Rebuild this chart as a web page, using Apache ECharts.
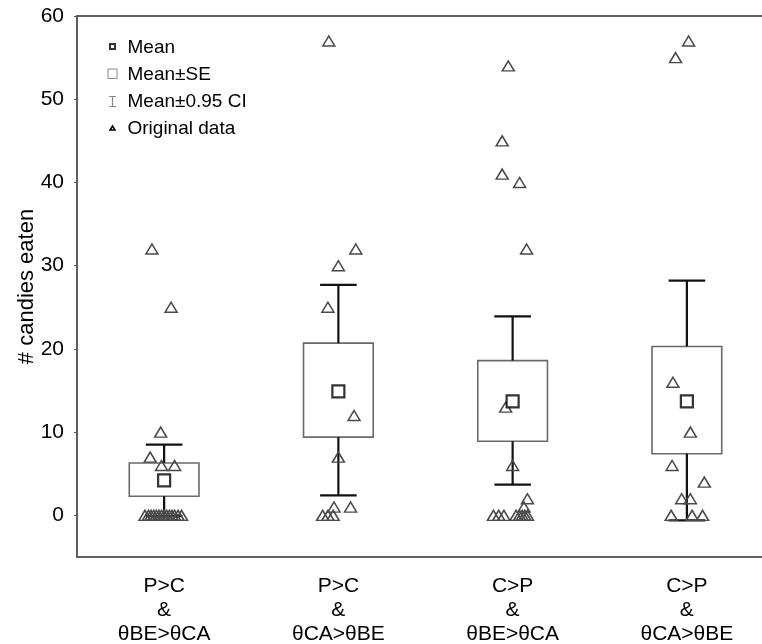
<!DOCTYPE html>
<html><head><meta charset="utf-8">
<script src="https://cdn.jsdelivr.net/npm/echarts@6/dist/echarts.min.js"></script>
<style>html,body{margin:0;padding:0;background:#fff}#c{width:762px;height:644px}</style>
</head><body><div id="c"></div>
<script>
// ---- data ----
const categories = ['P>C\n&\nθBE>θCA', 'P>C\n&\nθCA>θBE', 'C>P\n&\nθBE>θCA', 'C>P\n&\nθCA>θBE'];
const yTicks = [0, 10, 20, 30, 40, 50, 60];
const means  = [4.2, 14.9, 13.7, 13.7];
const seLow  = [2.3, 9.4, 8.9, 7.4];
const seHigh = [6.3, 20.7, 18.6, 20.3];
const ciLow  = [-0.1, 2.4, 3.7, -0.6];
const ciHigh = [8.5, 27.7, 23.9, 28.2];

// original data points per group, with the horizontal jitter seen in the picture (fraction of a category)
const orig1   = [32, 25, 10, 7, 6, 6, 0, 0, 0, 0, 0, 0, 0, 0, 0, 0, 0, 0, 0, 0];
const jitter1 = [-0.07, 0.04, -0.02, -0.08, -0.015, 0.06, -0.11, -0.09, -0.075, -0.06, -0.045, -0.03, -0.015, 0, 0.015, 0.03, 0.045, 0.06, 0.08, 0.1];
const orig2   = [57, 32, 30, 25, 12, 7, 1, 1, 0, 0, 0];
const jitter2 = [-0.055, 0.1, 0, -0.06, 0.09, 0, -0.025, 0.07, -0.09, -0.06, -0.03];
const orig3   = [54, 45, 41, 40, 32, 13, 6, 2, 1, 0, 0, 0, 0, 0, 0, 0, 0];
const jitter3 = [-0.025, -0.06, -0.06, 0.04, 0.08, -0.04, 0, 0.085, 0.065, -0.11, -0.08, -0.05, 0.02, 0.04, 0.055, 0.07, 0.085];
const orig4   = [57, 55, 16, 10, 6, 4, 2, 2, 0, 0, 0];
const jitter4 = [0.01, -0.065, -0.08, 0.02, -0.085, 0.1, -0.03, 0.02, -0.09, 0.03, 0.09];

const groups = [[orig1, jitter1], [orig2, jitter2], [orig3, jitter3], [orig4, jitter4]];
const pointData = [];
groups.forEach(([vals, jit], g) => vals.forEach((v, k) => pointData.push([g + jit[k], v])));

const BOX_W = 0.40, CAP_W = 0.21;
const FONT = '"Liberation Sans", Arial, sans-serif';

const chart = echarts.init(document.getElementById('c'), null, {renderer: 'canvas'});
chart.setOption({
  animation: false,
  backgroundColor: '#fff',
  grid: {left: 77, top: 16, width: 697, height: 541, outerBoundsMode: 'none', containLabel: false,
         show: true, borderColor: '#555', borderWidth: 1.5, backgroundColor: 'transparent'},
  legend: {
    orient: 'vertical', left: 100, top: 33, itemWidth: 15, itemHeight: 12, itemGap: 8,
    textStyle: {fontFamily: FONT, fontSize: 19, color: '#000', lineHeight: 19},
    selectedMode: false,
    data: [
      {name: 'Mean', icon: 'path://M0,0M15,12M2.5,2.5L7.5,2.5L7.5,7.5L2.5,7.5Z', itemStyle: {color: '#fff', borderColor: '#000', borderWidth: 2}},
      {name: 'Mean±SE', icon: 'path://M0,0M15,12M0.5,0.5L9.5,0.5L9.5,10L0.5,10Z', itemStyle: {color: '#fff', borderColor: '#888', borderWidth: 1}},
      {name: 'Mean±0.95 CI', icon: 'path://M0,0M15,12M1.5,1L8.5,1M5,1L5,11M1.5,11L8.5,11', itemStyle: {color: 'none', borderColor: '#888', borderWidth: 1.2}},
      {name: 'Original data', icon: 'path://M0,0M15,12M5,3.5L7.5,7.5L2.5,7.5Z', itemStyle: {color: '#fff', borderColor: '#000', borderWidth: 1.5}}
    ]
  },
  xAxis: [
    {type: 'category', data: categories, position: 'bottom', boundaryGap: true,
     axisLine: {onZero: false, lineStyle: {color: '#555', width: 1.5}},
     axisTick: {inside: true, alignWithLabel: true, length: 4, lineStyle: {color: '#555'}},
     axisLabel: {fontFamily: FONT, fontSize: 21, color: '#000', lineHeight: 24, margin: 17},
     splitLine: {show: false}},
    {type: 'value', min: -0.5, max: 3.5, show: false, axisLine: {onZero: false}, splitLine: {show: false}},
    {type: 'category', data: categories, position: 'top', boundaryGap: true,
     axisLine: {onZero: false, lineStyle: {color: '#555', width: 1.5}},
     axisTick: {inside: true, alignWithLabel: true, length: 4, lineStyle: {color: '#555'}},
     axisLabel: {show: false}, splitLine: {show: false}}
  ],
  yAxis: {
    type: 'value', min: -5, max: 60,
    name: '# candies eaten', nameLocation: 'middle', nameRotate: 90, nameGap: 39, nameMoveOverlap: false,
    nameTextStyle: {fontFamily: FONT, fontSize: 22, color: '#000'},
    axisLine: {show: true, onZero: false, lineStyle: {color: '#555', width: 1.5}},
    axisTick: {show: true, length: 3, lineStyle: {color: '#555'}, customValues: yTicks},
    axisLabel: {fontFamily: FONT, fontSize: 21, color: '#000', margin: 13, customValues: yTicks},
    splitLine: {show: false}
  },
  series: [
    {
      name: 'Mean±SE', type: 'custom', xAxisIndex: 1, z: 2,
      itemStyle: {color: '#fff', borderColor: '#777'},
      data: seLow.map((lo, i) => [i, lo, seHigh[i]]),
      renderItem: (params, api) => {
        const x = api.value(0);
        const top = api.coord([x, api.value(2)]);
        const bot = api.coord([x, api.value(1)]);
        const w = api.size([BOX_W, 0])[0];
        return {type: 'rect', shape: {x: top[0] - w / 2, y: top[1], width: w, height: bot[1] - top[1]},
                style: {fill: 'none', stroke: '#6a6a6a', lineWidth: 1.6}};
      }
    },
    {
      name: 'Mean±0.95 CI', type: 'custom', xAxisIndex: 1, z: 3,
      itemStyle: {color: '#777'},
      data: ciLow.map((lo, i) => [i, lo, ciHigh[i], seLow[i], seHigh[i]]),
      renderItem: (params, api) => {
        const x = api.value(0);
        const pLo = api.coord([x, api.value(1)]);
        const pHi = api.coord([x, api.value(2)]);
        const pSl = api.coord([x, api.value(3)]);
        const pSh = api.coord([x, api.value(4)]);
        const c = api.size([CAP_W, 0])[0] / 2;
        const st = {stroke: '#111', lineWidth: 2.2};
        return {type: 'group', children: [
          {type: 'line', shape: {x1: pSh[0], y1: pSh[1], x2: pHi[0], y2: pHi[1]}, style: st},
          {type: 'line', shape: {x1: pHi[0] - c, y1: pHi[1], x2: pHi[0] + c, y2: pHi[1]}, style: st},
          {type: 'line', shape: {x1: pSl[0], y1: pSl[1], x2: pLo[0], y2: pLo[1]}, style: st},
          {type: 'line', shape: {x1: pLo[0] - c, y1: pLo[1], x2: pLo[0] + c, y2: pLo[1]}, style: st}
        ]};
      }
    },
    {
      name: 'Original data', type: 'scatter', xAxisIndex: 1, z: 4,
      symbol: 'triangle', symbolSize: [12, 10],
      itemStyle: {color: 'none', borderColor: '#4a4a4a', borderWidth: 1.5, opacity: 1},
      data: pointData
    },
    {
      name: 'Mean', type: 'scatter', xAxisIndex: 1, z: 5,
      symbol: 'rect', symbolSize: 12,
      itemStyle: {color: '#fff', borderColor: '#000', borderWidth: 2.2},
      data: means.map((m, i) => [i, m])
    }
  ]
});
</script>
</body></html>
